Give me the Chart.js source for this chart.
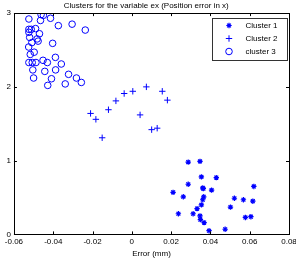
<!DOCTYPE html>
<html>
<head>
<meta charset="utf-8">
<script src="https://cdn.jsdelivr.net/npm/chart.js@4"></script>
<style>
  html, body { margin: 0; padding: 0; background: #fff; }
  #wrap { width: 296px; height: 263px; }
</style>
</head>
<body>
<div id="wrap"><canvas id="chart" width="296" height="263"></canvas></div>
<script>
// Cluster 1 (*)
const c1x = [0.0287, 0.0347, 0.0354, 0.0430, 0.0287, 0.0361, 0.0364, 0.0621, 0.0210, 0.0406,
             0.0262, 0.0366, 0.0361, 0.0522, 0.0568, 0.0616, 0.0354, 0.0332, 0.0502, 0.0237,
             0.0312, 0.0347, 0.0349, 0.0368, 0.0578, 0.0606, 0.0475, 0.0393];
const c1y = [0.98, 0.99, 0.78, 0.77, 0.68, 0.63, 0.62, 0.65, 0.57, 0.60,
             0.51, 0.51, 0.47, 0.49, 0.47, 0.45, 0.40, 0.35, 0.37, 0.28,
             0.28, 0.25, 0.20, 0.16, 0.23, 0.24, 0.07, 0.05];
// Cluster 2 (+)
const c2x = [-0.0210, -0.0183, -0.0151, -0.0119, -0.0081, -0.0039, 0.0005, 0.0074, 0.0155, 0.0181,
             0.0042, 0.0101, 0.0129];
const c2y = [1.64, 1.56, 1.31, 1.69, 1.81, 1.91, 1.94, 2.00, 1.94, 1.82,
             1.62, 1.42, 1.44];
// cluster 3 (o)
const c3x = [-0.0524, -0.0462, -0.0450, -0.0414, -0.0465, -0.0374, -0.0304, -0.0237, -0.0524, -0.0512,
             -0.0490, -0.0524, -0.0470, -0.0520, -0.0482, -0.0477, -0.0509, -0.0403, -0.0525, -0.0497,
             -0.0517, -0.0389, -0.0452, -0.0430, -0.0524, -0.0507, -0.0488, -0.0359, -0.0504, -0.0443,
             -0.0388, -0.0322, -0.0282, -0.0500, -0.0409, -0.0257, -0.0339, -0.0428];
const c3y = [2.92, 2.98, 2.97, 2.93, 2.90, 2.83, 2.85, 2.77, 2.78, 2.78,
             2.79, 2.74, 2.72, 2.67, 2.65, 2.62, 2.60, 2.59, 2.54, 2.47,
             2.44, 2.40, 2.36, 2.33, 2.33, 2.33, 2.33, 2.31, 2.23, 2.21,
             2.23, 2.17, 2.12, 2.12, 2.11, 2.06, 2.04, 2.02];

const seriesLabels = ['Cluster 1', 'Cluster 2', 'cluster 3'];
const xTicks = [-0.06, -0.04, -0.02, 0, 0.02, 0.04, 0.06, 0.08];
const yTicks = [0, 1, 2, 3];

const BLUE = '#0000ff';
const FONT = 'Liberation Sans, Arial, sans-serif';

function toPoints(xs, ys) {
    return xs.map((x, i) => ({ x: x, y: ys[i] }));
}

// box round the plot, inward ticks on all four sides, and the legend box
const matlabBox = {
    id: 'matlabBox',
    afterDraw(chart) {
        const ctx = chart.ctx;
        const a = chart.chartArea;
        const xs = chart.scales.x, ys = chart.scales.y;
        const t = 3;
        ctx.save();
        ctx.strokeStyle = '#000';
        ctx.lineWidth = 1;
        ctx.beginPath();
        xTicks.forEach(v => {
            const px = Math.round(xs.getPixelForValue(v)) + 0.5;
            ctx.moveTo(px, a.bottom); ctx.lineTo(px, a.bottom - t);
            ctx.moveTo(px, a.top); ctx.lineTo(px, a.top + t);
        });
        yTicks.forEach(v => {
            const py = Math.round(ys.getPixelForValue(v)) + 0.5;
            ctx.moveTo(a.left, py); ctx.lineTo(a.left + t, py);
            ctx.moveTo(a.right, py); ctx.lineTo(a.right - t, py);
        });
        ctx.stroke();
        ctx.strokeRect(Math.round(a.left) + 0.5, Math.round(a.top) + 0.5,
                       Math.round(a.right - a.left), Math.round(a.bottom - a.top));

        // legend
        const bx = 212.5, by = 18.5, bw = 75, bh = 42;
        ctx.fillStyle = '#fff';
        ctx.fillRect(bx, by, bw, bh);
        ctx.strokeStyle = '#333';
        ctx.strokeRect(bx, by, bw, bh);
        ctx.font = '8px ' + FONT;
        ctx.textBaseline = 'middle';
        ctx.textAlign = 'left';
        chart.data.datasets.forEach((ds, i) => {
            const ly = by + 7 + i * 13;
            ctx.strokeStyle = ds.borderColor;
            ctx.fillStyle = ds.backgroundColor;
            ctx.lineWidth = ds.borderWidth;
            Chart.helpers.drawPoint(ctx, {
                pointStyle: ds.pointStyle, radius: ds.pointRadius, rotation: 0, borderWidth: ds.borderWidth
            }, bx + 16.5, ly);
            ctx.fillStyle = '#000';
            ctx.fillText(ds.label, bx + 33, ly);
        });
        ctx.restore();
    }
};

const ctx = document.getElementById('chart').getContext('2d');
new Chart(ctx, {
    type: 'scatter',
    data: {
        datasets: [
            { label: seriesLabels[0], data: toPoints(c1x, c1y), pointStyle: 'star', pointRadius: 2.7,
              borderColor: BLUE, backgroundColor: BLUE, borderWidth: 1.2 },
            { label: seriesLabels[1], data: toPoints(c2x, c2y), pointStyle: 'cross', pointRadius: 3.2,
              borderColor: BLUE, backgroundColor: BLUE, borderWidth: 1 },
            { label: seriesLabels[2], data: toPoints(c3x, c3y), pointStyle: 'circle', pointRadius: 3.3,
              borderColor: BLUE, backgroundColor: 'rgba(0,0,0,0)', borderWidth: 1 }
        ]
    },
    options: {
        responsive: false,
        animation: false,
        layout: { padding: { left: 3.5, right: 7, top: 0, bottom: 4 } },
        plugins: {
            legend: { display: false },
            tooltip: { enabled: false },
            title: {
                display: true,
                text: 'Clusters for the variable ex (Position error in x)',
                color: '#000',
                font: { family: FONT, size: 8, weight: 'normal' },
                padding: { top: 1, bottom: 2.5 }
            }
        },
        scales: {
            x: {
                type: 'linear',
                min: -0.06,
                max: 0.08,
                afterBuildTicks: (s) => { s.ticks = xTicks.map(v => ({ value: v })); },
                afterFit: (s) => { s.paddingLeft = 0; s.paddingRight = 0; },
                grid: { display: false, drawTicks: false },
                border: { display: false },
                ticks: {
                    color: '#000',
                    padding: 3.5,
                    maxRotation: 0,
                    font: { family: FONT, size: 8, lineHeight: 1 },
                    callback: (v) => (Math.abs(v) < 1e-9 ? '0' : String(Number(v.toFixed(2))))
                },
                title: {
                    display: true,
                    text: 'Error (mm)',
                    color: '#000',
                    font: { family: FONT, size: 8 },
                    padding: { top: 0, bottom: 0 }
                }
            },
            y: {
                type: 'linear',
                min: 0,
                max: 3,
                afterBuildTicks: (s) => { s.ticks = yTicks.map(v => ({ value: v })); },
                afterFit: (s) => { s.paddingTop = 0; s.paddingBottom = 0; },
                grid: { display: false, drawTicks: false },
                border: { display: false },
                ticks: {
                    color: '#000',
                    padding: 3,
                    font: { family: FONT, size: 8 }
                }
            }
        }
    },
    plugins: [matlabBox]
});
</script>
</body>
</html>
